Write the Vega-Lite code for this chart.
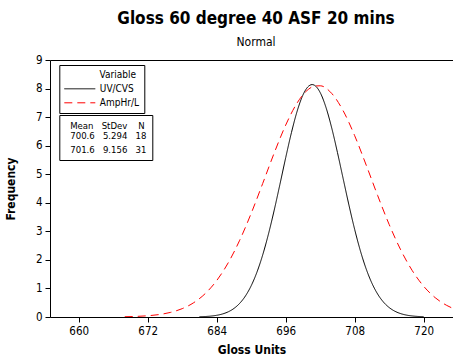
{
  "$schema": "https://vega.github.io/schema/vega-lite/v6.json",
  "width": 403,
  "height": 257,
  "autosize": {"type": "none"},
  "padding": {"left": 50, "top": 60, "right": 0, "bottom": 39},
  "background": "white",
  "config": {
    "font": "DejaVu Sans Condensed",
    "view": {"stroke": null},
    "axis": {
      "labelFont": "DejaVu Sans Condensed",
      "labelFontSize": 11.5,
      "labelColor": "black",
      "labelFlush": false,
      "tickColor": "black",
      "domainColor": "black",
      "tickSize": 5,
      "grid": false,
      "titleFont": "DejaVu Sans Condensed",
      "titleFontSize": 12,
      "titleFontWeight": "bold",
      "titleColor": "black"
    }
  },
  "title": {
    "text": "Gloss 60 degree 40 ASF 20 mins",
    "subtitle": "Normal",
    "font": "DejaVu Sans Condensed",
    "fontSize": 17,
    "fontWeight": "bold",
    "color": "black",
    "subtitleFont": "DejaVu Sans Condensed",
    "subtitleFontSize": 12,
    "subtitleColor": "black",
    "anchor": "middle",
    "dx": 4.5,
    "offset": 5,
    "subtitlePadding": 9
  },
  "datasets": {
    "curves": [
      {"series": "UV/CVS", "x": 681, "y": 0.0086},
      {"series": "UV/CVS", "x": 682, "y": 0.0170},
      {"series": "UV/CVS", "x": 683, "y": 0.0324},
      {"series": "UV/CVS", "x": 684, "y": 0.0596},
      {"series": "UV/CVS", "x": 685, "y": 0.1059},
      {"series": "UV/CVS", "x": 686, "y": 0.1815},
      {"series": "UV/CVS", "x": 687, "y": 0.3001},
      {"series": "UV/CVS", "x": 688, "y": 0.4793},
      {"series": "UV/CVS", "x": 689, "y": 0.7378},
      {"series": "UV/CVS", "x": 690, "y": 1.0963},
      {"series": "UV/CVS", "x": 691, "y": 1.572},
      {"series": "UV/CVS", "x": 692, "y": 2.175},
      {"series": "UV/CVS", "x": 693, "y": 2.905},
      {"series": "UV/CVS", "x": 694, "y": 3.741},
      {"series": "UV/CVS", "x": 695, "y": 4.651},
      {"series": "UV/CVS", "x": 696, "y": 5.580},
      {"series": "UV/CVS", "x": 697, "y": 6.459},
      {"series": "UV/CVS", "x": 698, "y": 7.214},
      {"series": "UV/CVS", "x": 699, "y": 7.776},
      {"series": "UV/CVS", "x": 700, "y": 8.087},
      {"series": "UV/CVS", "x": 700.6, "y": 8.139},
      {"series": "UV/CVS", "x": 701, "y": 8.115},
      {"series": "UV/CVS", "x": 702, "y": 7.859},
      {"series": "UV/CVS", "x": 703, "y": 7.343},
      {"series": "UV/CVS", "x": 704, "y": 6.623},
      {"series": "UV/CVS", "x": 705, "y": 5.762},
      {"series": "UV/CVS", "x": 706, "y": 4.838},
      {"series": "UV/CVS", "x": 707, "y": 3.919},
      {"series": "UV/CVS", "x": 708, "y": 3.064},
      {"series": "UV/CVS", "x": 709, "y": 2.311},
      {"series": "UV/CVS", "x": 710, "y": 1.682},
      {"series": "UV/CVS", "x": 711, "y": 1.182},
      {"series": "UV/CVS", "x": 712, "y": 0.8008},
      {"series": "UV/CVS", "x": 713, "y": 0.5237},
      {"series": "UV/CVS", "x": 714, "y": 0.3306},
      {"series": "UV/CVS", "x": 715, "y": 0.2013},
      {"series": "UV/CVS", "x": 716, "y": 0.1183},
      {"series": "UV/CVS", "x": 717, "y": 0.0671},
      {"series": "UV/CVS", "x": 718, "y": 0.0367},
      {"series": "UV/CVS", "x": 719, "y": 0.0194},
      {"series": "UV/CVS", "x": 720, "y": 0.0099},
      {"series": "AmpHr/L", "x": 668, "y": 0.0096},
      {"series": "AmpHr/L", "x": 670, "y": 0.0210},
      {"series": "AmpHr/L", "x": 672, "y": 0.0436},
      {"series": "AmpHr/L", "x": 674, "y": 0.0862},
      {"series": "AmpHr/L", "x": 676, "y": 0.1626},
      {"series": "AmpHr/L", "x": 678, "y": 0.2924},
      {"series": "AmpHr/L", "x": 680, "y": 0.5013},
      {"series": "AmpHr/L", "x": 682, "y": 0.8193},
      {"series": "AmpHr/L", "x": 684, "y": 1.2772},
      {"series": "AmpHr/L", "x": 686, "y": 1.898},
      {"series": "AmpHr/L", "x": 688, "y": 2.689},
      {"series": "AmpHr/L", "x": 690, "y": 3.632},
      {"series": "AmpHr/L", "x": 692, "y": 4.677},
      {"series": "AmpHr/L", "x": 694, "y": 5.743},
      {"series": "AmpHr/L", "x": 696, "y": 6.722},
      {"series": "AmpHr/L", "x": 698, "y": 7.501},
      {"series": "AmpHr/L", "x": 700, "y": 7.981},
      {"series": "AmpHr/L", "x": 701, "y": 8.087},
      {"series": "AmpHr/L", "x": 702, "y": 8.097},
      {"series": "AmpHr/L", "x": 704, "y": 7.830},
      {"series": "AmpHr/L", "x": 706, "y": 7.220},
      {"series": "AmpHr/L", "x": 708, "y": 6.348},
      {"series": "AmpHr/L", "x": 710, "y": 5.320},
      {"series": "AmpHr/L", "x": 712, "y": 4.251},
      {"series": "AmpHr/L", "x": 714, "y": 3.239},
      {"series": "AmpHr/L", "x": 716, "y": 2.353},
      {"series": "AmpHr/L", "x": 718, "y": 1.629},
      {"series": "AmpHr/L", "x": 720, "y": 1.076},
      {"series": "AmpHr/L", "x": 722, "y": 0.6773},
      {"series": "AmpHr/L", "x": 724, "y": 0.4066},
      {"series": "AmpHr/L", "x": 726, "y": 0.2326}
    ],
    "stats": [
      {"Variable": "UV/CVS", "Mean": 700.6, "StDev": 5.294, "N": 18},
      {"Variable": "AmpHr/L", "Mean": 701.6, "StDev": 9.156, "N": 31}
    ]
  },
  "layer": [
    {
      "data": {"name": "curves"},
      "mark": {"type": "line", "strokeWidth": 1, "clip": true, "interpolate": "monotone"},
      "encoding": {
        "x": {
          "field": "x",
          "type": "quantitative",
          "scale": {"domain": [655, 725.1], "nice": false, "zero": false},
          "axis": {"values": [660, 672, 684, 696, 708, 720], "title": "Gloss Units", "labelPadding": 3, "titlePadding": 8}
        },
        "y": {
          "field": "y",
          "type": "quantitative",
          "scale": {"domain": [0, 9], "nice": false},
          "axis": {"values": [0, 1, 2, 3, 4, 5, 6, 7, 8, 9], "title": "Frequency", "labelPadding": 3, "titlePadding": 18}
        },
        "color": {
          "field": "series",
          "type": "nominal",
          "scale": {"domain": ["UV/CVS", "AmpHr/L"], "range": ["black", "red"]},
          "legend": {
            "orient": "none", "legendX": 9.3, "legendY": 5,
            "title": "Variable\u00a0\u200b", "titleAnchor": "end",
            "titleFontSize": 10, "titleFontWeight": "normal", "titleColor": "black", "titlePadding": 3.8,
            "labelFontSize": 10, "labelColor": "black", "labelExpr": "datum.label + '\u00a0\u00a0'",
            "symbolType": "M-1,0H5.2", "symbolSize": 100, "symbolStrokeWidth": 1, "labelOffset": 25,
            "padding": 4.5, "strokeColor": "black", "fillColor": "white", "rowPadding": 3
          }
        },
        "strokeDash": {
          "field": "series",
          "type": "nominal",
          "scale": {"domain": ["UV/CVS", "AmpHr/L"], "range": [[1, 0], [8, 5]]},
          "legend": {
            "orient": "none", "legendX": 9.3, "legendY": 5,
            "title": "Variable\u00a0\u200b", "titleAnchor": "end",
            "titleFontSize": 10, "titleFontWeight": "normal", "titleColor": "black", "titlePadding": 3.8,
            "labelFontSize": 10, "labelColor": "black", "labelExpr": "datum.label + '\u00a0\u00a0'",
            "symbolType": "M-1,0H5.2", "symbolSize": 100, "symbolStrokeWidth": 1, "labelOffset": 25,
            "padding": 4.5, "strokeColor": "black", "fillColor": "white", "rowPadding": 3
          }
        }
      }
    },
    {
      "data": {"name": "stats"},
      "mark": {"type": "point", "opacity": 0},
      "encoding": {
        "x": {
          "field": "Mean",
          "type": "quantitative",
          "axis": {"orient": "top", "labels": false, "ticks": false, "title": null, "domain": true}
        },
        "shape": {
          "field": "Variable",
          "type": "nominal",
          "sort": ["UV/CVS", "AmpHr/L"],
          "legend": {
            "orient": "none", "legendX": 9.3, "legendY": 55,
            "title": "\u200b\u00a0\u00a0Mean\u00a0\u00a0\u00a0StDev\u00a0\u00a0\u00a0\u00a0N",
            "titleFontSize": 9.5, "titleFontWeight": "normal", "titleColor": "black", "titlePadding": 1.7,
            "labelFontSize": 9.5, "labelColor": "black",
            "labelExpr": "datum.label == 'UV/CVS' ? '\u00a0700.6\u00a0\u00a0\u00a05.294\u00a0\u00a0\u00a018' : '\u00a0701.6\u00a0\u00a0\u00a09.156\u00a0\u00a0\u00a031'",
            "symbolSize": 0, "symbolStrokeWidth": 0, "symbolOpacity": 0, "labelOffset": -4,
            "padding": 5.5, "strokeColor": "black", "fillColor": "white", "rowPadding": 2.3
          }
        }
      }
    }
  ],
  "resolve": {"axis": {"x": "independent"}}
}
